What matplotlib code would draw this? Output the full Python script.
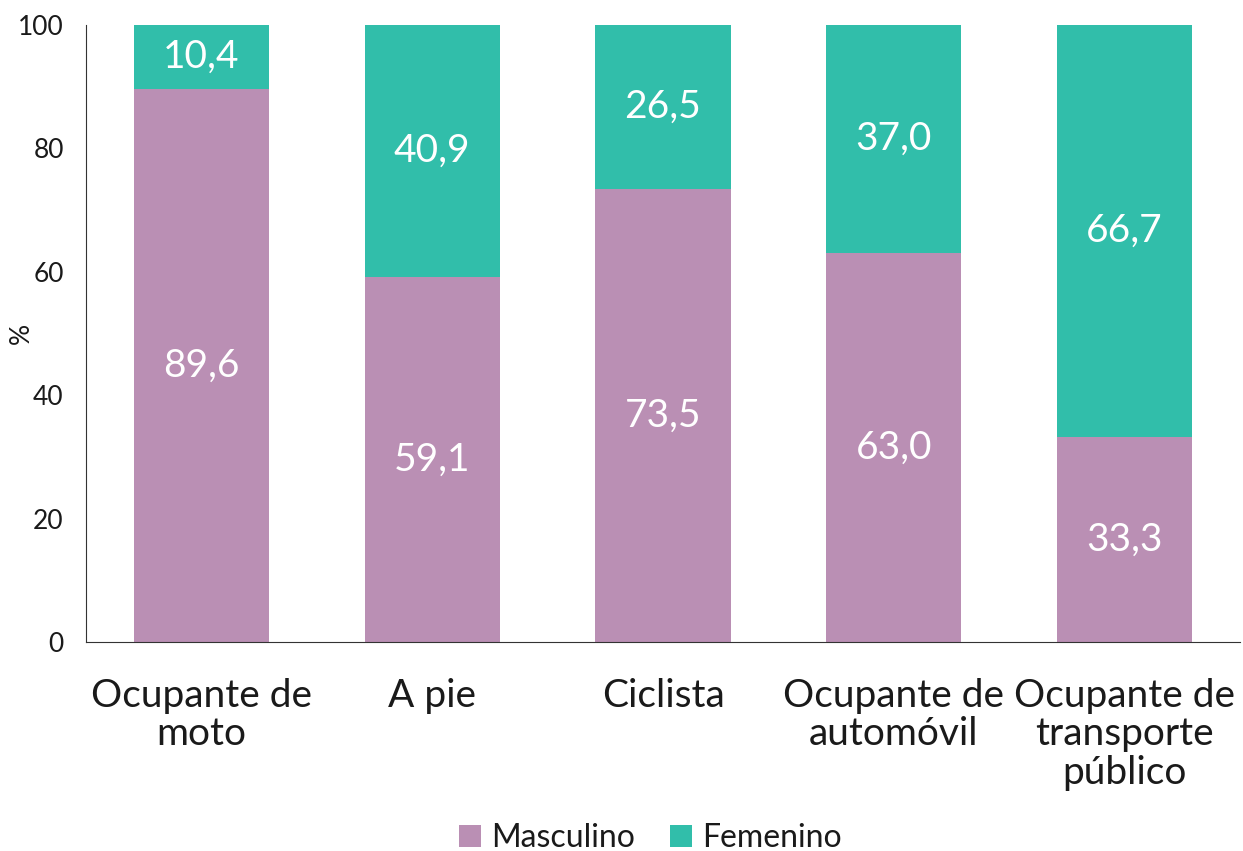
import matplotlib
matplotlib.use("Agg")
import matplotlib.pyplot as plt
import numpy as np

categories = ["Ocupante de\nmoto", "A pie", "Ciclista", "Ocupante de\nautomóvil", "Ocupante de\ntransporte\npúblico"]
masculino = [89.6, 59.1, 73.5, 63.0, 33.3]
femenino = [10.4, 40.9, 26.5, 37.0, 66.7]
yticks = [0, 20, 40, 60, 80, 100]

c_m = "#BA8FB4"
c_f = "#31BEAA"
txt = "#1a1a1a"

plt.rcParams['font.family'] = ['Lato', 'DejaVu Sans']
fig = plt.figure(figsize=(12.43, 8.51), dpi=100)
ax = fig.add_axes([86/1243, 1 - 642/851, (1240-86)/1243, (642-25)/851])

x = np.arange(len(categories))
w = 0.585
ax.bar(x, masculino, w, color=c_m, label="Masculino")
ax.bar(x, femenino, w, bottom=masculino, color=c_f, label="Femenino")

def fmt(v):
    return f"{v:.1f}".replace(".", ",")

for i in range(len(categories)):
    ax.text(x[i], masculino[i] / 2, fmt(masculino[i]), ha="center", va="center",
            color="white", fontsize=28)
    ax.text(x[i], masculino[i] + femenino[i] / 2, fmt(femenino[i]), ha="center", va="center",
            color="white", fontsize=28)

ax.set_xlim(-0.5, len(categories) - 0.5)
ax.set_ylim(0, 100)
ax.set_yticks(yticks)
ax.set_yticklabels([str(t) for t in yticks], fontsize=19, color=txt)
ax.set_xticks(x)
ax.set_xticklabels(categories, fontsize=28, color=txt, linespacing=1.08)
ax.tick_params(axis="y", length=0, pad=16)
ax.tick_params(axis="x", length=0, pad=26)
for s in ["top", "right"]:
    ax.spines[s].set_visible(False)
ax.spines["left"].set_color("#333333")
ax.spines["bottom"].set_color("#333333")
ax.set_ylabel("%", fontsize=19, color=txt)
ax.yaxis.set_label_coords(-52/1154, 0.5)

leg = fig.legend(loc="center", bbox_to_anchor=(650/1243, 1 - 838/851), ncol=2, frameon=False,
                 fontsize=23, handlelength=0.7, handleheight=0.7, handletextpad=0.3,
                 columnspacing=1.1)
for t in leg.get_texts():
    t.set_color(txt)

fig.savefig("out.png", dpi=100)
